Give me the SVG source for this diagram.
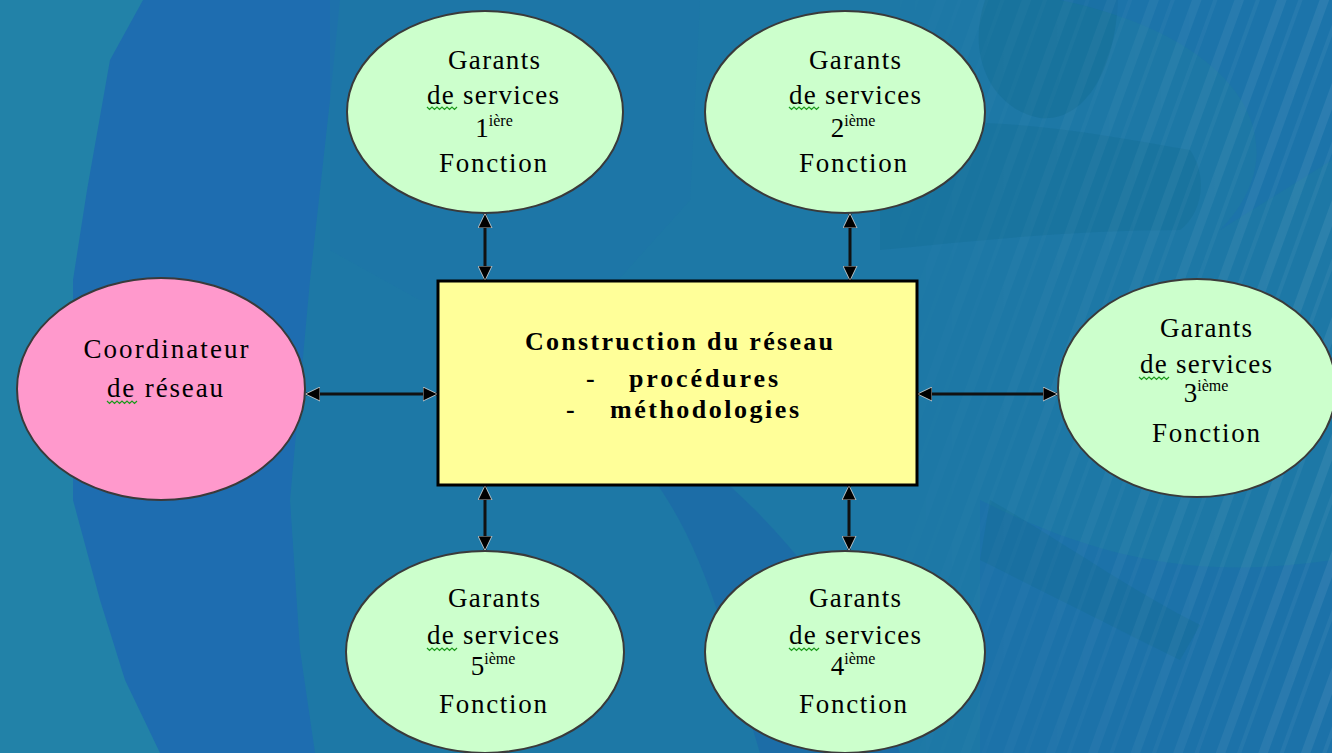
<svg xmlns="http://www.w3.org/2000/svg" width="1332" height="753" viewBox="0 0 1332 753">
<defs>
<style>
.g{fill:#ccffcc;stroke:#3a3a3a;stroke-width:2}
.t{font-family:"Liberation Serif","Times New Roman",serif;font-size:27px;fill:#000;text-anchor:middle}
.b{font-family:"Liberation Serif","Times New Roman",serif;font-size:26px;font-weight:bold;fill:#000}
.sq{fill:none;stroke:#1a9a1a;stroke-width:1.2}
.c{stroke:#111;stroke-width:3;fill:none;marker-start:url(#ah);marker-end:url(#ah)}
</style>
<marker id="ah" viewBox="0 0 15 15" refX="14" refY="7.5" markerWidth="15" markerHeight="15" markerUnits="userSpaceOnUse" orient="auto-start-reverse">
<path d="M0,0.5 L14.5,7.5 L0,14.5 z" fill="#000" stroke="#ddd" stroke-width="0.8"/>
</marker>
<pattern id="stripes" width="40" height="40" patternUnits="userSpaceOnUse" patternTransform="rotate(20)">
<rect x="0" y="0" width="9" height="40" fill="#ffffff" opacity="0.07"/>
<rect x="20" y="0" width="4" height="40" fill="#ffffff" opacity="0.05"/>
</pattern>
<linearGradient id="fade" x1="0" y1="0" x2="1" y2="0">
<stop offset="0" stop-color="#fff" stop-opacity="0"/>
<stop offset="1" stop-color="#fff" stop-opacity="1"/>
</linearGradient>
<mask id="rm"><rect x="860" y="0" width="472" height="753" fill="url(#fade)"/></mask>
</defs>

<g id="background">
<rect width="1332" height="753" fill="#1d78a6"/>
<rect x="0" y="0" width="160" height="753" fill="#2282a8"/>
<polygon points="143,0 340,0 330,100 310,280 290,500 300,650 315,753 160,753 125,680 100,600 73,500 73,280 87,190 110,60" fill="#1e6db0"/>
<path d="M330,0 L700,0 L690,200 L600,300 L420,300 L330,250 Z" fill="#1e74a8" opacity="0.6"/>
<path d="M620,440 C700,520 720,620 760,753 L900,753 C860,640 820,560 700,460 Z" fill="#1c66a8" opacity="0.6"/>
<path d="M985,0 C965,60 995,110 1040,118 C1085,122 1115,70 1118,0 Z" fill="#156c92" opacity="0.45"/>
<path d="M880,130 C980,110 1100,135 1190,150 C1210,180 1200,215 1180,230 C1080,230 980,240 880,250 Z" fill="#156c92" opacity="0.35"/>
<path d="M1060,0 C1250,40 1300,150 1220,230 L1332,160 L1332,0 Z" fill="#1d6fb0" opacity="0.45"/>
<path d="M980,500 C1100,560 1200,580 1332,560 L1332,753 L980,753 Z" fill="#1b68b0" opacity="0.4"/>
<path d="M990,500 C1060,540 1130,590 1200,625 L1180,660 C1110,625 1040,590 980,560 Z" fill="#136d8f" opacity="0.3"/>
<rect x="860" y="0" width="472" height="753" fill="url(#stripes)" mask="url(#rm)"/>
</g>

<g id="connectors">
<line class="c" x1="485" y1="214" x2="485" y2="280"/>
<line class="c" x1="850" y1="214" x2="850" y2="280"/>
<line class="c" x1="306" y1="394" x2="437" y2="394"/>
<line class="c" x1="918" y1="394" x2="1057" y2="394"/>
<line class="c" x1="485" y1="486" x2="485" y2="550"/>
<line class="c" x1="849" y1="486" x2="849" y2="550"/>
</g>

<g id="construction">
<rect x="438" y="281" width="479" height="204" fill="#ffff99" stroke="#000" stroke-width="3"/>
<text class="b" x="525" y="350" textLength="308" lengthAdjust="spacing">Construction du réseau</text>
<text class="b" x="586" y="387">-</text>
<text class="b" x="629" y="387" textLength="149" lengthAdjust="spacing">procédures</text>
<text class="b" x="566" y="418">-</text>
<text class="b" x="610" y="418" textLength="189" lengthAdjust="spacing">méthodologies</text>
</g>

<g id="coordinateur">
<ellipse cx="161" cy="389" rx="144" ry="111" fill="#ff99cc" stroke="#3a3a3a" stroke-width="2"/>
<text class="t" x="166" y="358" textLength="165" lengthAdjust="spacing">Coordinateur</text>
<text class="t" x="165" y="397" textLength="116" lengthAdjust="spacing">de réseau</text>
<path class="sq" d="M107,401 l2.5,2.5 l2.5,-2.5 l2.5,2.5 l2.5,-2.5 l2.5,2.5 l2.5,-2.5 l2.5,2.5 l2.5,-2.5 l2.5,2.5 l2.5,-2.5 l2.5,2.5 l2.5,-2.5"/>
</g>

<g id="garants1">
<ellipse class="g" cx="485" cy="112" rx="138" ry="101"/>
<text class="t" x="494" y="69" textLength="92" lengthAdjust="spacing">Garants</text>
<text class="t" x="493" y="104" textLength="132" lengthAdjust="spacing">de services</text>
<text class="t" x="494" y="137">1<tspan font-size="16" dy="-11">ière</tspan></text>
<text class="t" x="493" y="172" textLength="108" lengthAdjust="spacing">Fonction</text>
<path class="sq" d="M427,107 l2.5,2.5 l2.5,-2.5 l2.5,2.5 l2.5,-2.5 l2.5,2.5 l2.5,-2.5 l2.5,2.5 l2.5,-2.5 l2.5,2.5 l2.5,-2.5 l2.5,2.5 l2.5,-2.5"/>
</g>

<g id="garants2">
<ellipse class="g" cx="845" cy="112" rx="140" ry="101"/>
<text class="t" x="855" y="69" textLength="92" lengthAdjust="spacing">Garants</text>
<text class="t" x="855" y="104" textLength="132" lengthAdjust="spacing">de services</text>
<text class="t" x="853" y="137">2<tspan font-size="16" dy="-11">ième</tspan></text>
<text class="t" x="853" y="172" textLength="108" lengthAdjust="spacing">Fonction</text>
<path class="sq" d="M789,107 l2.5,2.5 l2.5,-2.5 l2.5,2.5 l2.5,-2.5 l2.5,2.5 l2.5,-2.5 l2.5,2.5 l2.5,-2.5 l2.5,2.5 l2.5,-2.5 l2.5,2.5 l2.5,-2.5"/>
</g>

<g id="garants3">
<ellipse class="g" cx="1197" cy="388" rx="139" ry="109"/>
<text class="t" x="1206" y="337" textLength="92" lengthAdjust="spacing">Garants</text>
<text class="t" x="1206" y="373" textLength="132" lengthAdjust="spacing">de services</text>
<text class="t" x="1206" y="402">3<tspan font-size="16" dy="-11">ième</tspan></text>
<text class="t" x="1206" y="442" textLength="108" lengthAdjust="spacing">Fonction</text>
<path class="sq" d="M1139,377 l2.5,2.5 l2.5,-2.5 l2.5,2.5 l2.5,-2.5 l2.5,2.5 l2.5,-2.5 l2.5,2.5 l2.5,-2.5 l2.5,2.5 l2.5,-2.5 l2.5,2.5 l2.5,-2.5"/>
</g>

<g id="garants5">
<ellipse class="g" cx="485" cy="652" rx="139" ry="101"/>
<text class="t" x="494" y="607" textLength="92" lengthAdjust="spacing">Garants</text>
<text class="t" x="493" y="644" textLength="132" lengthAdjust="spacing">de services</text>
<text class="t" x="493" y="675">5<tspan font-size="16" dy="-11">ième</tspan></text>
<text class="t" x="493" y="713" textLength="108" lengthAdjust="spacing">Fonction</text>
<path class="sq" d="M427,648 l2.5,2.5 l2.5,-2.5 l2.5,2.5 l2.5,-2.5 l2.5,2.5 l2.5,-2.5 l2.5,2.5 l2.5,-2.5 l2.5,2.5 l2.5,-2.5 l2.5,2.5 l2.5,-2.5"/>
</g>

<g id="garants4">
<ellipse class="g" cx="845" cy="652" rx="140" ry="101"/>
<text class="t" x="855" y="607" textLength="92" lengthAdjust="spacing">Garants</text>
<text class="t" x="855" y="644" textLength="132" lengthAdjust="spacing">de services</text>
<text class="t" x="853" y="675">4<tspan font-size="16" dy="-11">ième</tspan></text>
<text class="t" x="853" y="713" textLength="108" lengthAdjust="spacing">Fonction</text>
<path class="sq" d="M789,648 l2.5,2.5 l2.5,-2.5 l2.5,2.5 l2.5,-2.5 l2.5,2.5 l2.5,-2.5 l2.5,2.5 l2.5,-2.5 l2.5,2.5 l2.5,-2.5 l2.5,2.5 l2.5,-2.5"/>
</g>
</svg>
